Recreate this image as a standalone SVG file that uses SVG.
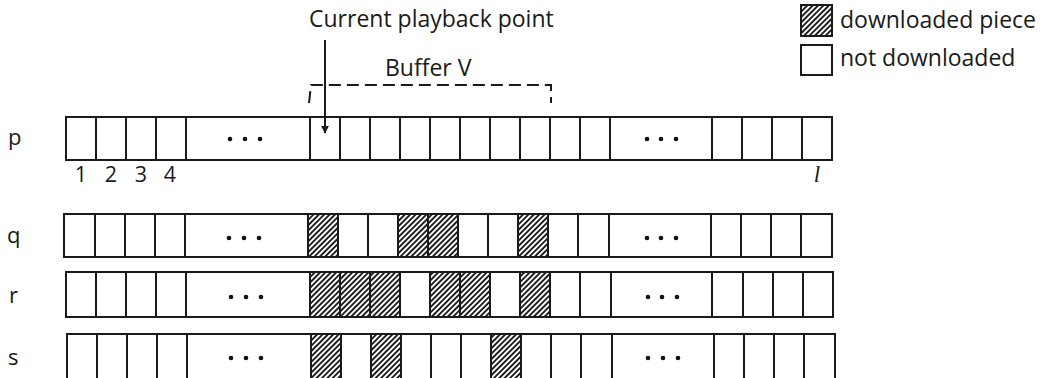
<svg xmlns="http://www.w3.org/2000/svg" width="1045" height="378" viewBox="0 0 1045 378">
  <defs>
    <!-- diagonal hatching for downloaded pieces -->
    <pattern id="hatch" patternUnits="userSpaceOnUse" width="3.8" height="10" patternTransform="rotate(45)">
      <rect width="3.8" height="10" fill="#fff"/>
      <line x1="1" y1="0" x2="1" y2="10" stroke="#111" stroke-width="1.8"/>
    </pattern>
    <marker id="arrow" viewBox="0 0 10 10" refX="9" refY="5" markerWidth="4" markerHeight="4" orient="auto">
      <path d="M0,0 L10,5 L0,10 z" fill="#1a1a1a"/>
    </marker>
  </defs>
  <style>
    .txt { font-family: "Open Sans", "DejaVu Sans", sans-serif; font-size: 23px; fill: #1a1a1a; }
    .lbl { font-family: "Open Sans", "DejaVu Sans", sans-serif; font-size: 22px; fill: #1a1a1a; }
    .num { font-family: "Open Sans", "DejaVu Sans", sans-serif; font-size: 21.5px; fill: #1a1a1a; text-anchor: middle; }
    .ital { font-family: "Liberation Serif", serif; font-style: italic; font-size: 23px; fill: #1a1a1a; text-anchor: middle; }
    .box { fill: #fff; stroke: #1a1a1a; stroke-width: 2; }
    .cell { stroke: #1a1a1a; stroke-width: 2; }
    .hat { fill: url(#hatch); stroke: #1a1a1a; stroke-width: 2; }
    .dot { fill: #111; }
    .conn { fill: none; stroke: #1a1a1a; stroke-width: 2; }
  </style>
  <rect width="1045" height="378" fill="#fff"/>

  <!-- legend -->
  <g id="legend">
    <rect class="hat" x="801" y="5" width="31" height="31"/>
    <text class="txt" x="840" y="28">downloaded piece</text>
    <rect class="box" x="801" y="45" width="31" height="30"/>
    <text class="txt" x="840" y="66">not downloaded</text>
  </g>

  <!-- titles -->
  <g id="title-playback">
    <text class="txt" x="309" y="27">Current playback point</text>
  </g>
  <g id="title-buffer">
    <text class="txt" x="385" y="76">Buffer V</text>
  </g>

  <!-- row p -->
  <g id="row-p">
    <text class="lbl" x="8" y="145">p</text>
    <rect class="box" x="66" y="117" width="766" height="43"/>
    <path class="cell" d="M96,117V160M126,117V160M156,117V160M186,117V160M310,117V160M340,117V160M370,117V160M400,117V160M430,117V160M460,117V160M490,117V160M520,117V160M550,117V160M580,117V160M610,117V160M712,117V160M742,117V160M772,117V160M802,117V160"/>
    <circle class="dot" cx="230" cy="139" r="2.3"/><circle class="dot" cx="245" cy="139" r="2.3"/><circle class="dot" cx="260" cy="139" r="2.3"/>
    <circle class="dot" cx="647" cy="139" r="2.3"/><circle class="dot" cx="661" cy="139" r="2.3"/><circle class="dot" cx="676" cy="139" r="2.3"/>
    <text class="num" x="81" y="182">1</text>
    <text class="num" x="111" y="182">2</text>
    <text class="num" x="141" y="182">3</text>
    <text class="num" x="170" y="182">4</text>
    <text class="ital" x="817" y="182">l</text>
  </g>

  <!-- row q -->
  <g id="row-q">
    <text class="lbl" x="7" y="243">q</text>
    <rect class="box" x="64" y="214" width="768" height="43"/>
    <rect class="hat" x="308" y="214" width="30" height="43"/>
    <rect class="hat" x="398" y="214" width="30" height="43"/>
    <rect class="hat" x="428" y="214" width="30" height="43"/>
    <rect class="hat" x="518" y="214" width="30" height="43"/>
    <path class="cell" d="M95,214V257M125,214V257M155,214V257M185,214V257M368,214V257M488,214V257M578,214V257M609,214V257M711,214V257M741,214V257M771,214V257M801,214V257"/>
    <circle class="dot" cx="229" cy="238" r="2.3"/><circle class="dot" cx="244" cy="238" r="2.3"/><circle class="dot" cx="259" cy="238" r="2.3"/>
    <circle class="dot" cx="647" cy="238" r="2.3"/><circle class="dot" cx="661" cy="238" r="2.3"/><circle class="dot" cx="676" cy="238" r="2.3"/>
  </g>

  <!-- row r -->
  <g id="row-r">
    <text class="lbl" x="9" y="303">r</text>
    <rect class="box" x="66" y="272" width="767" height="45"/>
    <rect class="hat" x="310" y="272" width="30" height="45"/>
    <rect class="hat" x="340" y="272" width="30" height="45"/>
    <rect class="hat" x="370" y="272" width="30" height="45"/>
    <rect class="hat" x="430" y="272" width="30" height="45"/>
    <rect class="hat" x="460" y="272" width="30" height="45"/>
    <rect class="hat" x="520" y="272" width="30" height="45"/>
    <path class="cell" d="M96,272V317M126,272V317M156,272V317M186,272V317M580,272V317M611,272V317M712,272V317M743,272V317M773,272V317M803,272V317"/>
    <circle class="dot" cx="231" cy="297" r="2.3"/><circle class="dot" cx="246" cy="297" r="2.3"/><circle class="dot" cx="261" cy="297" r="2.3"/>
    <circle class="dot" cx="648" cy="297" r="2.3"/><circle class="dot" cx="662" cy="297" r="2.3"/><circle class="dot" cx="677" cy="297" r="2.3"/>
  </g>

  <!-- row s -->
  <g id="row-s">
    <text class="lbl" x="8" y="365">s</text>
    <rect class="box" x="67" y="334" width="768" height="60"/>
    <rect class="hat" x="311" y="334" width="30" height="60"/>
    <rect class="hat" x="371" y="334" width="30" height="60"/>
    <rect class="hat" x="491" y="334" width="30" height="60"/>
    <path class="cell" d="M97,334V394M127,334V394M157,334V394M187,334V394M431,334V394M461,334V394M551,334V394M581,334V394M612,334V394M714,334V394M744,334V394M774,334V394M804,334V394"/>
    <circle class="dot" cx="231" cy="358" r="2.3"/><circle class="dot" cx="246" cy="358" r="2.3"/><circle class="dot" cx="261" cy="358" r="2.3"/>
    <circle class="dot" cx="648" cy="358" r="2.3"/><circle class="dot" cx="663" cy="358" r="2.3"/><circle class="dot" cx="678" cy="358" r="2.3"/>
  </g>

  <!-- connectors: playback pointer and buffer bracket -->
  <g id="connectors">
    <line class="conn" x1="325" y1="40" x2="325" y2="133" marker-end="url(#arrow)"/>
    <path class="conn" d="M309,103 L311,85 H551 V103" stroke-dasharray="12 6"/>
  </g>
</svg>
